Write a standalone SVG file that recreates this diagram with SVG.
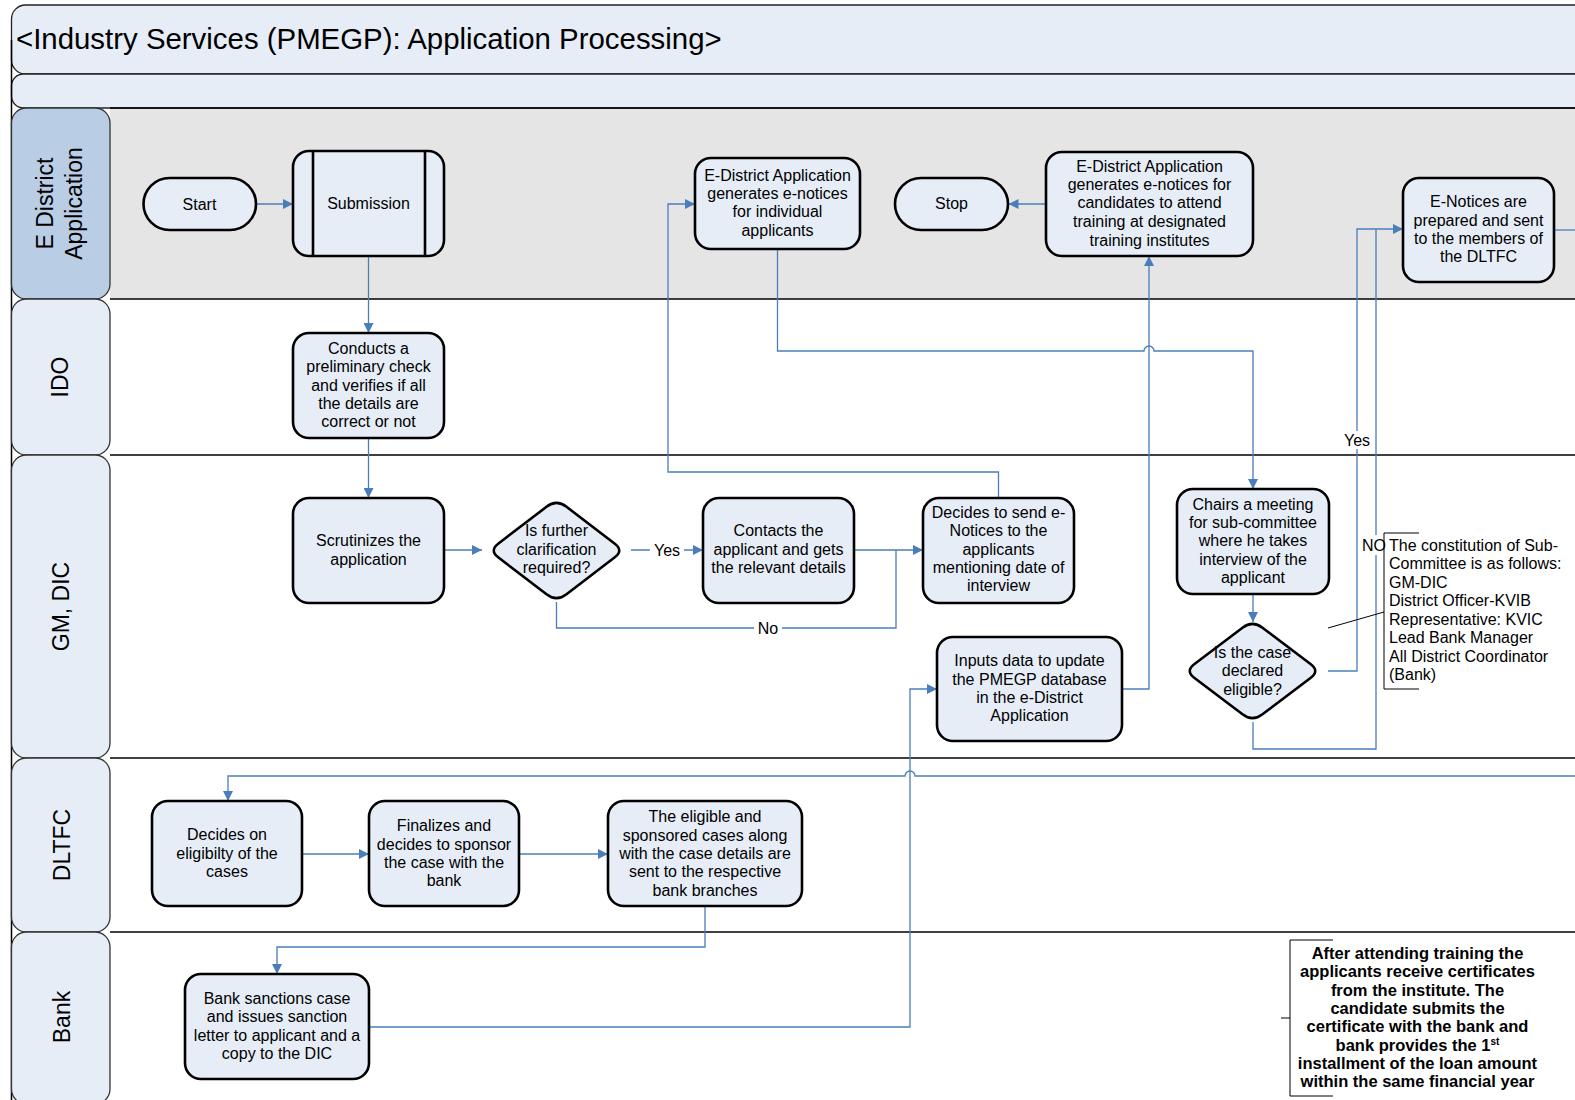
<svg xmlns="http://www.w3.org/2000/svg" width="1575" height="1100" viewBox="0 0 1575 1100">
<style>
.band{fill:#e6edf7;stroke:#222;stroke-width:1.3}
.hdr{fill:#e6edf7;stroke:#333;stroke-width:1.3}
.hdr1{fill:#b9cde5;stroke:#333;stroke-width:1.3}
.sep{stroke:#000;stroke-width:1.5;fill:none}
.node{fill:#e6edf7;stroke:#000;stroke-width:2.6}
.t{font-family:"Liberation Sans",Arial,sans-serif;font-size:16px;fill:#000;text-anchor:middle}
.lt{font-family:"Liberation Sans",Arial,sans-serif;font-size:16px;fill:#000}
.lane{font-family:"Liberation Sans",Arial,sans-serif;font-size:23px;fill:#000;text-anchor:middle}
.b{font-family:"Liberation Sans",Arial,sans-serif;font-size:16.5px;font-weight:bold;fill:#000;text-anchor:middle}
.c{fill:none;stroke:#4a7ebb;stroke-width:1.3}
.ca{fill:none;stroke:#4a7ebb;stroke-width:1.3;marker-end:url(#arr)}
.ann{fill:none;stroke:#000;stroke-width:1}
</style>
<defs>
<marker id="arr" viewBox="0 0 10 10" refX="10" refY="5" markerWidth="11" markerHeight="10" markerUnits="userSpaceOnUse" orient="auto">
<path d="M0,0 L10,5 L0,10 Z" fill="#4a7ebb"/>
</marker>
</defs>

<!-- pool / lanes -->
<g id="pool">
<rect x="110" y="108" width="1480" height="191" fill="#e5e5e5"/>
<rect class="band" x="11.5" y="5" width="1600" height="69" rx="14"/>
<rect class="band" x="11.5" y="74" width="1600" height="34" rx="12"/>
<text x="16" y="48.5" font-family="Liberation Sans, Arial, sans-serif" font-size="29.4px" fill="#000">&lt;Industry Services (PMEGP): Application Processing&gt;</text>
<line class="sep" x1="11.5" y1="40" x2="11.5" y2="1100"/>
<line class="sep" x1="110" y1="108" x2="1575" y2="108"/>
<line class="sep" x1="110" y1="299" x2="1575" y2="299"/>
<line class="sep" x1="110" y1="455" x2="1575" y2="455"/>
<line class="sep" x1="110" y1="758" x2="1575" y2="758"/>
<line class="sep" x1="110" y1="932" x2="1575" y2="932"/>
</g>
<g id="lane-edistrict">
<rect class="hdr1" x="11.5" y="108" width="98.5" height="191" rx="15"/>
<text class="lane" transform="translate(53,203.5) rotate(-90)">E District</text>
<text class="lane" transform="translate(82,203.5) rotate(-90)">Application</text>
</g>
<g id="lane-ido">
<rect class="hdr" x="11.5" y="299" width="98.5" height="156" rx="15"/>
<text class="lane" transform="translate(68,377) rotate(-90)">IDO</text>
</g>
<g id="lane-gmdic">
<rect class="hdr" x="11.5" y="455" width="98.5" height="303" rx="15"/>
<text class="lane" transform="translate(69,606.5) rotate(-90)">GM, DIC</text>
</g>
<g id="lane-dltfc">
<rect class="hdr" x="11.5" y="758" width="98.5" height="174" rx="15"/>
<text class="lane" transform="translate(70,845) rotate(-90)">DLTFC</text>
</g>
<g id="lane-bank">
<rect class="hdr" x="11.5" y="932" width="98.5" height="172" rx="15"/>
<text class="lane" transform="translate(70,1017) rotate(-90)">Bank</text>
</g>

<!-- connectors -->
<g id="connectors">
<path class="ca" d="M256,204 H293"/>
<path class="ca" d="M368.5,256 V333"/>
<path class="ca" d="M368.5,438 V498"/>
<path class="ca" d="M445,550 H482"/>
<path class="ca" d="M631,550 H703"/>
<path class="ca" d="M854,550 H923"/>
<path class="c" d="M556.5,602 V628 H896 V550"/>
<path class="ca" d="M998.5,498 V472 H668 V204 H695"/>
<path class="ca" d="M777.5,249 V351 H1144 A5,5 0 0 1 1154,351 H1253 V489"/>
<path class="ca" d="M1122,689 H1149 V256"/>
<path class="ca" d="M1046,204 H1008.5"/>
<path class="ca" d="M1253,594 V622"/>
<path class="ca" d="M1328,671 H1357 V229 H1403"/>
<path class="c" d="M1253,722 V749 H1376 V229"/>
<path class="c" d="M1554,230 H1575"/>
<path class="ca" d="M1575,776 H915 A5,5 0 0 0 905,776 H228 V801"/>
<path class="ca" d="M302,854 H369"/>
<path class="ca" d="M519,854 H608"/>
<path class="ca" d="M705,906 V947 H277 V974"/>
<path class="ca" d="M369,1027 H910 V689 H937"/>
<rect x="650" y="540" width="34" height="18" fill="#fff"/>
<text class="t" x="667" y="555.5">Yes</text>
<rect x="754" y="619" width="28" height="18" fill="#fff"/>
<text class="t" x="768" y="633.5">No</text>
<rect x="1341" y="431" width="32" height="18" fill="#fff"/>
<text class="t" x="1357" y="445.5">Yes</text>
<rect x="1362" y="535" width="22" height="20" fill="#fff"/>
<text class="lt" x="1362" y="550.5">NO</text>
</g>

<!-- nodes -->
<g id="start">
<rect class="node" x="143.5" y="178" width="112.5" height="52" rx="26"/>
<text class="t" x="199.5" y="209.5">Start</text>
</g>
<g id="submission">
<rect class="node" x="293" y="151" width="151" height="105" rx="16"/>
<line x1="313" y1="151" x2="313" y2="256" stroke="#000" stroke-width="2.6"/>
<line x1="425" y1="151" x2="425" y2="256" stroke="#000" stroke-width="2.6"/>
<text class="t" x="368.5" y="209">Submission</text>
</g>
<g id="conducts">
<rect class="node" x="293" y="333" width="151" height="105" rx="16"/>
<text class="t" x="368.5" y="353.5">Conducts a</text>
<text class="t" x="368.5" y="372">preliminary check</text>
<text class="t" x="368.5" y="390.5">and verifies if all</text>
<text class="t" x="368.5" y="409">the details are</text>
<text class="t" x="368.5" y="427">correct or not</text>
</g>
<g id="scrutinizes">
<rect class="node" x="293" y="498" width="151" height="105" rx="16"/>
<text class="t" x="368.5" y="545.5">Scrutinizes the</text>
<text class="t" x="368.5" y="564.5">application</text>
</g>
<g id="clarification">
<path class="node" d="M498.5,543.5 L546.5,506.8 Q556.5,499 566.5,506.8 L614.5,543.5 Q624,550.5 614.5,557.5 L566.5,594.2 Q556.5,602 546.5,594.2 L498.5,557.5 Q489,550.5 498.5,543.5 Z"/>
<text class="t" x="556.5" y="536">Is further</text>
<text class="t" x="556.5" y="554.5">clarification</text>
<text class="t" x="556.5" y="573">required?</text>
</g>
<g id="contacts">
<rect class="node" x="703" y="498" width="151" height="105" rx="16"/>
<text class="t" x="778.5" y="536">Contacts the</text>
<text class="t" x="778.5" y="554.5">applicant and gets</text>
<text class="t" x="778.5" y="573">the relevant details</text>
</g>
<g id="decides-send">
<rect class="node" x="923" y="498" width="151" height="105" rx="16"/>
<text class="t" x="998.5" y="518">Decides to send e-</text>
<text class="t" x="998.5" y="536">Notices to the</text>
<text class="t" x="998.5" y="554.5">applicants</text>
<text class="t" x="998.5" y="573">mentioning date of</text>
<text class="t" x="998.5" y="591">interview</text>
</g>
<g id="inputs">
<rect class="node" x="937" y="637" width="185" height="104" rx="16"/>
<text class="t" x="1029.5" y="665.5">Inputs data to update</text>
<text class="t" x="1029.5" y="684.5">the PMEGP database</text>
<text class="t" x="1029.5" y="703">in the e-District</text>
<text class="t" x="1029.5" y="721">Application</text>
</g>
<g id="enotice-individual">
<rect class="node" x="695" y="158" width="165" height="91" rx="16"/>
<text class="t" x="777.5" y="180.5">E-District Application</text>
<text class="t" x="777.5" y="199">generates e-notices</text>
<text class="t" x="777.5" y="217">for individual</text>
<text class="t" x="777.5" y="236">applicants</text>
</g>
<g id="stop">
<rect class="node" x="895" y="178" width="113" height="52" rx="26"/>
<text class="t" x="951.5" y="209">Stop</text>
</g>
<g id="enotice-training">
<rect class="node" x="1046" y="152" width="207" height="104" rx="16"/>
<text class="t" x="1149.5" y="171.5">E-District Application</text>
<text class="t" x="1149.5" y="190">generates e-notices for</text>
<text class="t" x="1149.5" y="208">candidates to attend</text>
<text class="t" x="1149.5" y="227">training at designated</text>
<text class="t" x="1149.5" y="245.5">training institutes</text>
</g>
<g id="enotices-dltfc">
<rect class="node" x="1403" y="178" width="151" height="104" rx="16"/>
<text class="t" x="1478.5" y="206.5">E-Notices are</text>
<text class="t" x="1478.5" y="225.5">prepared and sent</text>
<text class="t" x="1478.5" y="244">to the members of</text>
<text class="t" x="1478.5" y="262">the DLTFC</text>
</g>
<g id="chairs">
<rect class="node" x="1177" y="489" width="152" height="105" rx="16"/>
<text class="t" x="1253" y="509.5">Chairs a meeting</text>
<text class="t" x="1253" y="527.5">for sub-committee</text>
<text class="t" x="1253" y="546">where he takes</text>
<text class="t" x="1253" y="564.5">interview of the</text>
<text class="t" x="1253" y="583">applicant</text>
</g>
<g id="eligible-decision">
<path class="node" d="M1194.5,664 L1242.5,627.8 Q1252.5,620 1262.5,627.8 L1310.5,664 Q1320,671 1310.5,678 L1262.5,714.2 Q1252.5,722 1242.5,714.2 L1194.5,678 Q1185,671 1194.5,664 Z"/>
<text class="t" x="1252.5" y="657.5">Is the case</text>
<text class="t" x="1252.5" y="676">declared</text>
<text class="t" x="1252.5" y="694.5">eligible?</text>
</g>
<g id="annotation-committee">
<path class="ann" d="M1419,533 H1384 V689 H1419"/>
<line class="ann" x1="1328" y1="628" x2="1384" y2="612"/>
<text class="lt" x="1389" y="550.5">The constitution of Sub-</text>
<text class="lt" x="1389" y="569">Committee is as follows:</text>
<text class="lt" x="1389" y="587.5">GM-DIC</text>
<text class="lt" x="1389" y="606">District Officer-KVIB</text>
<text class="lt" x="1389" y="624.5">Representative: KVIC</text>
<text class="lt" x="1389" y="643">Lead Bank Manager</text>
<text class="lt" x="1389" y="661.5">All District Coordinator</text>
<text class="lt" x="1389" y="680">(Bank)</text>
</g>
<g id="decides-eligibility">
<rect class="node" x="152" y="801" width="150" height="105" rx="16"/>
<text class="t" x="227" y="840">Decides on</text>
<text class="t" x="227" y="859">eligibilty of the</text>
<text class="t" x="227" y="877">cases</text>
</g>
<g id="finalizes">
<rect class="node" x="369" y="801" width="150" height="105" rx="16"/>
<text class="t" x="444" y="830.5">Finalizes and</text>
<text class="t" x="444" y="849.5">decides to sponsor</text>
<text class="t" x="444" y="868">the case with the</text>
<text class="t" x="444" y="886">bank</text>
</g>
<g id="eligible-cases">
<rect class="node" x="608" y="801" width="194" height="105" rx="16"/>
<text class="t" x="705" y="821.5">The eligible and</text>
<text class="t" x="705" y="840.5">sponsored cases along</text>
<text class="t" x="705" y="859">with the case details are</text>
<text class="t" x="705" y="877">sent to the respective</text>
<text class="t" x="705" y="895.5">bank branches</text>
</g>
<g id="bank-sanctions">
<rect class="node" x="185" y="974" width="184" height="105" rx="16"/>
<text class="t" x="277" y="1004">Bank sanctions case</text>
<text class="t" x="277" y="1022">and issues sanction</text>
<text class="t" x="277" y="1040.5">letter to applicant and a</text>
<text class="t" x="277" y="1059">copy to the DIC</text>
</g>
<g id="annotation-training">
<path class="ann" d="M1333,940 H1290 V1096 H1333"/>
<line class="ann" x1="1281" y1="1018" x2="1290" y2="1018"/>
<text class="b" x="1417.5" y="959">After attending training the</text>
<text class="b" x="1417.5" y="977">applicants receive certificates</text>
<text class="b" x="1417.5" y="995.5">from the institute. The</text>
<text class="b" x="1417.5" y="1014">candidate submits the</text>
<text class="b" x="1417.5" y="1032">certificate with the bank and</text>
<text class="b" x="1417.5" y="1050.5">bank provides the 1<tspan dy="-6" font-size="10px">st</tspan></text>
<text class="b" x="1417.5" y="1069">installment of the loan amount</text>
<text class="b" x="1417.5" y="1087">within the same financial year</text>
</g>
</svg>
